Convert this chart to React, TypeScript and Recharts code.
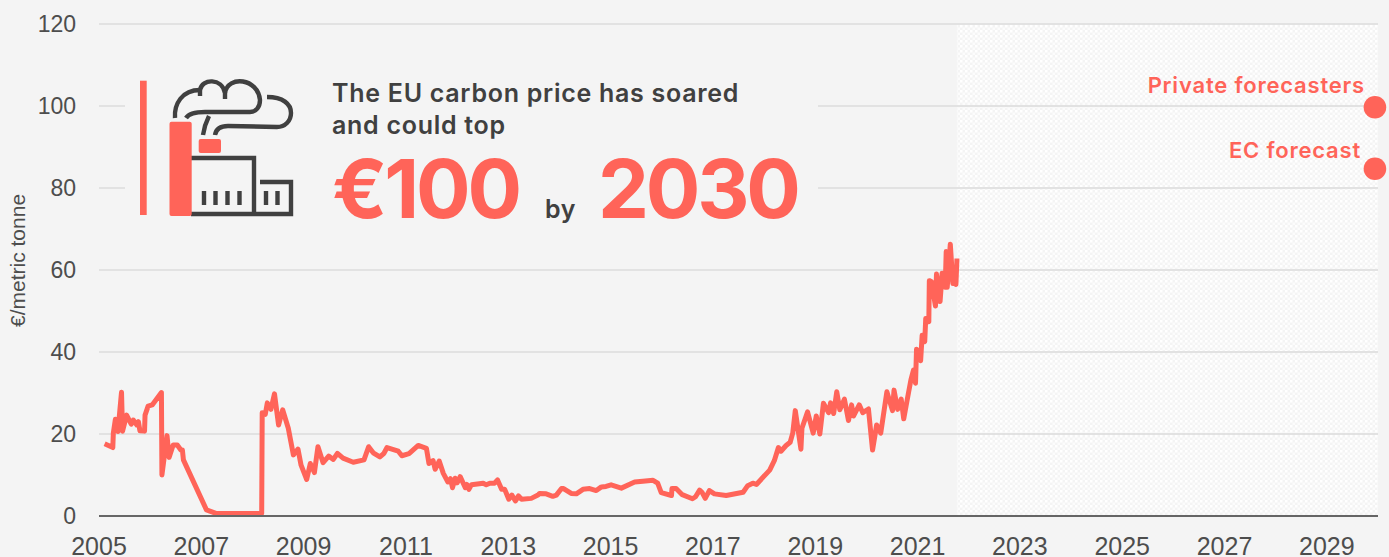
import { ComposedChart, CartesianGrid, Line, ReferenceArea, Scatter, XAxis, YAxis } from "recharts";

const BG = "#f4f4f4";
const RED = "#ff6459";
const DARK = "#404040";
const GRID = "#e2e2e2";
const TICK = "#4d4d4d";

const years = [
  2005.11, 2005.27, 2005.28, 2005.32, 2005.37, 2005.44, 2005.46, 2005.54, 2005.63, 2005.67,
  2005.74, 2005.77, 2005.8, 2005.89, 2005.9, 2005.96, 2006.04, 2006.22, 2006.23, 2006.33,
  2006.37, 2006.45, 2006.53, 2006.6, 2006.63, 2006.65, 2007.1, 2007.3, 2008.18, 2008.19,
  2008.25, 2008.29, 2008.36, 2008.43, 2008.51, 2008.59, 2008.7, 2008.8, 2008.89, 2008.95,
  2009.06, 2009.13, 2009.21, 2009.28, 2009.38, 2009.49, 2009.58, 2009.66, 2009.77, 2009.97,
  2010.18, 2010.27, 2010.36, 2010.49, 2010.57, 2010.63, 2010.85, 2010.92, 2011.06, 2011.24,
  2011.4, 2011.45, 2011.53, 2011.57, 2011.65, 2011.73, 2011.82, 2011.87, 2011.91, 2011.96,
  2012.0, 2012.06, 2012.16, 2012.19, 2012.23, 2012.28, 2012.51, 2012.57, 2012.64, 2012.73,
  2012.79, 2012.87, 2012.93, 2013.01, 2013.07, 2013.14, 2013.2, 2013.26, 2013.45, 2013.58,
  2013.61, 2013.74, 2013.87, 2013.94, 2014.04, 2014.08, 2014.23, 2014.33, 2014.46, 2014.59,
  2014.72, 2014.82, 2014.91, 2015.01, 2015.21, 2015.47, 2015.63, 2015.83, 2015.92, 2015.99,
  2016.19, 2016.2, 2016.28, 2016.4, 2016.6, 2016.66, 2016.74, 2016.79, 2016.85, 2016.93,
  2017.03, 2017.26, 2017.59, 2017.68, 2017.78, 2017.85, 2018.11, 2018.2, 2018.28, 2018.33,
  2018.43, 2018.51, 2018.56, 2018.61, 2018.72, 2018.74, 2018.85, 2018.96, 2019.02, 2019.09,
  2019.16, 2019.26, 2019.3, 2019.36, 2019.42, 2019.48, 2019.57, 2019.65, 2019.71, 2019.75,
  2019.86, 2019.93, 2020.04, 2020.12, 2020.2, 2020.28, 2020.4, 2020.51, 2020.54, 2020.61,
  2020.68, 2020.73, 2020.8, 2020.87, 2020.92, 2020.96, 2020.98, 2021.06, 2021.09, 2021.14,
  2021.16, 2021.22, 2021.23, 2021.27, 2021.35, 2021.37, 2021.44, 2021.48, 2021.54, 2021.56,
  2021.58, 2021.64, 2021.69, 2021.72, 2021.75, 2021.77,
];

const prices = [
  17.6, 16.7, 20.2, 23.6, 20.6, 30.2, 20.7, 24.6, 22.4, 23.4,
  22.2, 23.0, 20.8, 20.7, 24.6, 26.8, 27.1, 30.1, 10.0, 19.6,
  14.3, 17.3, 17.3, 16.1, 16.1, 13.7, 1.5, 0.6, 0.6, 25.2,
  24.8, 27.6, 26.0, 29.8, 22.2, 25.9, 21.4, 14.9, 16.3, 12.4,
  8.9, 12.8, 10.6, 16.9, 13.0, 14.6, 13.8, 15.3, 14.1, 13.1,
  13.7, 16.9, 15.4, 14.4, 15.3, 16.7, 15.8, 14.7, 15.2, 17.2,
  16.5, 12.8, 13.5, 11.4, 13.4, 10.4, 8.3, 9.1, 6.9, 9.2,
  8.1, 9.6, 6.9, 7.7, 6.5, 7.6, 8.0, 7.6, 8.0, 8.0,
  8.8, 6.5, 6.5, 4.1, 5.1, 3.7, 4.9, 4.1, 4.3, 5.1,
  5.5, 5.4, 4.8, 5.1, 6.7, 6.7, 5.5, 5.4, 6.5, 6.7,
  6.2, 7.1, 7.2, 7.6, 6.8, 8.3, 8.5, 8.7, 8.0, 5.7,
  5.0, 6.7, 6.7, 5.2, 4.2, 4.7, 6.3, 5.7, 4.3, 6.2,
  5.4, 5.0, 5.8, 7.4, 8.0, 7.7, 11.2, 13.5, 16.7, 15.8,
  17.2, 18.0, 20.2, 25.7, 16.3, 21.4, 25.4, 20.2, 24.4, 20.0,
  27.5, 25.2, 27.6, 25.0, 30.3, 25.9, 28.5, 23.3, 27.1, 24.4,
  27.1, 25.2, 26.1, 16.1, 22.2, 20.2, 30.3, 25.7, 30.7, 26.0,
  28.5, 23.7, 28.5, 33.2, 35.6, 32.4, 40.7, 37.9, 44.1, 42.5,
  48.2, 47.4, 57.4, 57.2, 51.2, 59.0, 52.3, 59.2, 55.8, 64.5,
  55.8, 66.3, 56.7, 57.6, 56.5, 62.8,
];

const forecastYears = [2029.94, 2029.94];
const forecastPrices = [99.7, 84.7];

const yearTicks = [2005, 2007, 2009, 2011, 2013, 2015, 2017, 2019, 2021, 2023, 2025, 2027, 2029];
const priceTicks = [0, 20, 40, 60, 80, 100, 120];

const priceData = years.map((year, i) => ({ year, price: prices[i] }));
const forecastData = forecastYears.map((year, i) => ({ year, price: forecastPrices[i] }));

function Headline() {
  return (
    <svg width={1389} height={557} style={{ position: "absolute", left: 0, top: 0, pointerEvents: "none" }}>
      {/* hides the gridlines behind the callout */}
      <rect x={125} y={72} width={693} height={160} fill={BG} />
      <rect x={140} y={80.7} width={6.7} height={134.3} fill={RED} />
      <g fill="none" stroke={DARK} strokeWidth={4.4}>
        <path d="M175 118 C174 104 182 90 200 90" />
        <path d="M200 90 L200 96" />
        <path d="M200 90 C202 78 222 78 225 93 L225 99" />
        <path d="M225 93 C228 75 258 78 260 100 C260 107 256 112 250 112 L205 112 C196 112 189 113 186 118" />
        <path d="M209 116 C206 122 204 128 203 135" />
        <path d="M215 135 C216 129 221 126 228 126 L277 127 C285 127 291 121 291 113 C291 104 283 97 267 97" />
        <path d="M191 158 L254 158 L254 214 M191 214 L291 214 L291 182 L260 182" />
        <path d="M204 191 V205 M215.5 191 V205 M227.5 191 V205 M239.5 191 V205 M266 191 V205 M277.5 191 V205" />
      </g>
      <rect x={169.5} y={121.7} width={22.2} height={94.3} rx={2} fill={RED} />
      <rect x={198.7} y={139} width={22.3} height={14} rx={2} fill={RED} />
      <g fontFamily="Inter" fontWeight={600}>
        <text x={332} y={102} fontSize={25} letterSpacing={0.72} fill={DARK}>The EU carbon price has soared</text>
        <text x={332} y={134} fontSize={25} letterSpacing={0.72} fill={DARK}>and could top</text>
        <text x={332} y={218} fontSize={81} fontWeight={700} letterSpacing={-3.2} fill={RED}>€100</text>
        <text x={545} y={218} fontSize={25} letterSpacing={0.72} fill={DARK}>by</text>
        <text x={598} y={218} fontSize={81} fontWeight={700} letterSpacing={-3.2} fill={RED}>2030</text>
        <text x={1365} y={93} fontSize={22} letterSpacing={0.8} fill={RED} textAnchor="end">Private forecasters</text>
        <text x={1361} y={158} fontSize={22} letterSpacing={0.8} fill={RED} textAnchor="end">EC forecast</text>
      </g>
    </svg>
  );
}

export default function App() {
  const xTick = { fontFamily: "Liberation Sans", fontSize: 25, fill: TICK };
  const yTick = { fontFamily: "Liberation Sans", fontSize: 23, fill: TICK };
  return (
    <div style={{ position: "absolute", left: 0, top: 0, width: 1389, height: 557, background: BG, overflow: "hidden" }}>
      <ComposedChart
        width={1389}
        height={557}
        data={priceData}
        margin={{ top: 24, right: 11, bottom: 0, left: 0 }}
      >
        <defs>
          <pattern id="hatch" width={5} height={5} patternUnits="userSpaceOnUse">
            <rect x={0} y={0} width={2.5} height={2.5} fill="#ffffff" />
            <rect x={2.5} y={2.5} width={2.5} height={2.5} fill="#fcfcfc" />
          </pattern>
        </defs>
        <CartesianGrid horizontal vertical={false} stroke={GRID} strokeWidth={2} zIndex={-50} />
        <ReferenceArea x1={2021.77} x2={2030} y1={0} y2={120} fill="url(#hatch)" fillOpacity={1} stroke="none" zIndex={-200} />
        <XAxis
          dataKey="year"
          type="number"
          domain={[2005, 2030]}
          ticks={yearTicks}
          interval={0}
          height={41}
          tickLine={false}
          tickMargin={15}
          tick={xTick}
          stroke="#666666"
          strokeWidth={2}
        />
        <YAxis
          type="number"
          domain={[0, 120]}
          ticks={priceTicks}
          width={99}
          tickLine={false}
          axisLine={false}
          tickMargin={17}
          tick={yTick}
          label={{
            value: "€/metric tonne",
            angle: -90,
            position: "insideLeft",
            offset: 18,
            dy: 57,
            style: { fontFamily: "Liberation Sans", fontSize: 21, fill: TICK },
          }}
        />
        <Line
          dataKey="price"
          type="linear"
          stroke={RED}
          strokeWidth={5}
          strokeLinejoin="round"
          dot={false}
          isAnimationActive={false}
        />
        <Scatter data={forecastData} dataKey="price" fill={RED} shape={(p: any) => <circle cx={p.cx} cy={p.cy} r={11.3} fill={RED} />} isAnimationActive={false} />
      </ComposedChart>
      <Headline />
    </div>
  );
}
